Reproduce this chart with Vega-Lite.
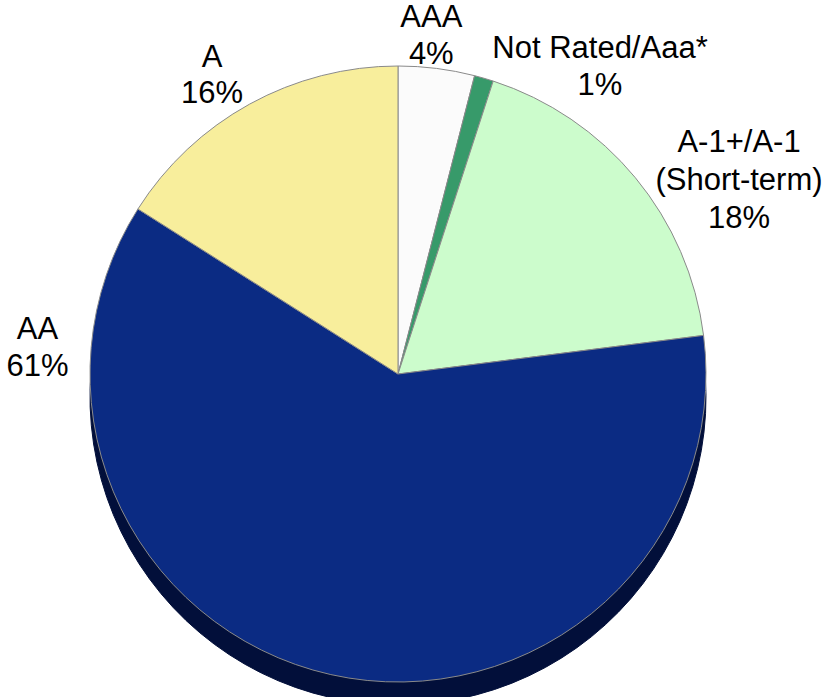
{
  "$schema": "https://vega.github.io/schema/vega-lite/v6.json",
  "width": 796,
  "height": 646,
  "autosize": "none",
  "padding": {"left": 0, "top": 51, "right": 38, "bottom": 0},
  "background": "white",
  "view": {"stroke": null},
  "data": {
    "values": [
      {"rating": "AAA", "pct": 4, "idx": 1, "label": "AAA\n4%"},
      {"rating": "Not Rated/Aaa*", "pct": 1, "idx": 2, "label": "Not Rated/Aaa*\n1%"},
      {"rating": "A-1+/A-1 (Short-term)", "pct": 18, "idx": 3, "label": "A-1+/A-1\n(Short-term)\n18%"},
      {"rating": "AA", "pct": 61, "idx": 4, "label": "AA\n61%"},
      {"rating": "A", "pct": 16, "idx": 5, "label": "A\n16%"}
    ]
  },
  "encoding": {
    "theta": {"field": "pct", "type": "quantitative", "stack": true},
    "order": {"field": "idx", "type": "quantitative"}
  },
  "layer": [
    {
      "mark": {"type": "arc", "outerRadius": 308, "yOffset": 23, "color": "#020f3a", "stroke": "#020f3a", "strokeWidth": 1}
    },
    {
      "mark": {"type": "arc", "outerRadius": 308, "stroke": "#8a8a8a", "strokeWidth": 1},
      "encoding": {
        "color": {
          "field": "rating",
          "type": "nominal",
          "scale": {
            "domain": ["AAA", "Not Rated/Aaa*", "A-1+/A-1 (Short-term)", "AA", "A"],
            "range": ["#fbfbfb", "#379a6a", "#ccfccc", "#0b2b83", "#f8ee9c"]
          },
          "legend": null
        }
      }
    },
    {
      "mark": {"type": "text", "radius": 348.5, "thetaOffset": -0.0300, "fontSize": 31, "font": "Liberation Sans", "lineBreak": "\n", "lineHeight": 37, "align": "center", "baseline": "alphabetic", "color": "#000000"},
      "encoding": {"text": {"condition": {"test": "datum.rating === 'AAA'", "field": "label"}, "value": ""}}
    },
    {
      "mark": {"type": "text", "radius": 375, "thetaOffset": 0.2861, "fontSize": 31, "font": "Liberation Sans", "lineBreak": "\n", "lineHeight": 37, "align": "center", "baseline": "alphabetic", "color": "#000000"},
      "encoding": {"text": {"condition": {"test": "datum.rating === 'Not Rated/Aaa*'", "field": "label"}, "value": ""}}
    },
    {
      "mark": {"type": "text", "radius": 406.9, "thetaOffset": 0.1141, "fontSize": 31, "font": "Liberation Sans", "lineBreak": "\n", "lineHeight": 38, "align": "center", "baseline": "alphabetic", "color": "#000000"},
      "encoding": {"text": {"condition": {"test": "datum.rating === 'A-1+/A-1 (Short-term)'", "field": "label"}, "value": ""}}
    },
    {
      "mark": {"type": "text", "radius": 362.2, "thetaOffset": 1.4477, "fontSize": 31, "font": "Liberation Sans", "lineBreak": "\n", "lineHeight": 37, "align": "center", "baseline": "alphabetic", "color": "#000000"},
      "encoding": {"text": {"condition": {"test": "datum.rating === 'AA'", "field": "label"}, "value": ""}}
    },
    {
      "mark": {"type": "text", "radius": 358.9, "thetaOffset": -0.0421, "fontSize": 31, "font": "Liberation Sans", "lineBreak": "\n", "lineHeight": 36, "align": "center", "baseline": "alphabetic", "color": "#000000"},
      "encoding": {"text": {"condition": {"test": "datum.rating === 'A'", "field": "label"}, "value": ""}}
    }
  ]
}
